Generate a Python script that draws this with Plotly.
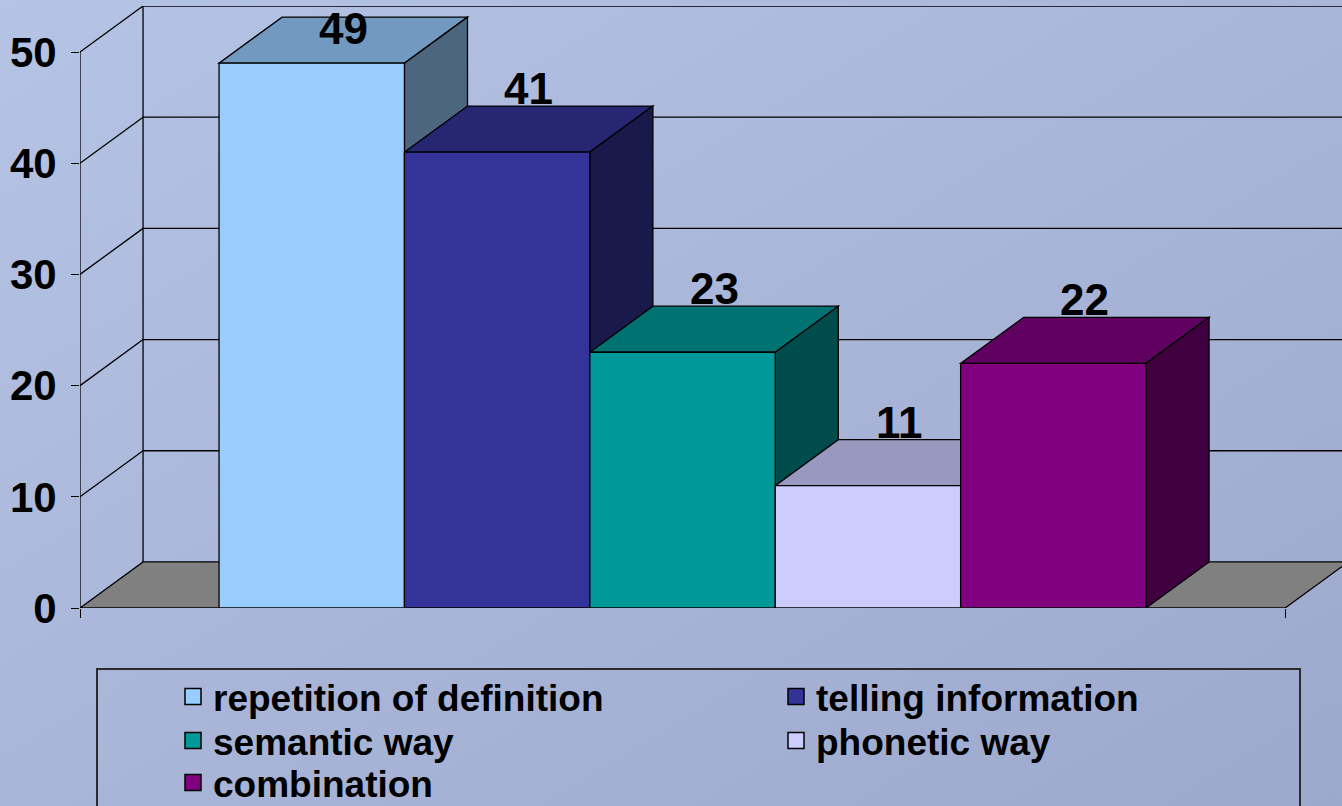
import base64
import plotly.graph_objects as go

# ---- data ----
categories = ["repetition of definition", "telling information", "semantic way",
              "phonetic way", "combination"]
values = [49, 41, 23, 11, 22]
front_colors = ["#99CCFF", "#333399", "#009999", "#CCCCFF", "#800080"]
y_ticks = [0, 10, 20, 30, 40, 50]

# ---- geometry / style ----
W, H = 1342, 806
PX_LEFT, PX_TOP, PX_BOTTOM = 80, 6, 608      # plot frame in pixels
DEPTH_X = 0.34                                # receding offset of the 3-D box (x units)
DEPTH_Y = 4.14                                # receding offset of the 3-D box (y units)
X_MIN, X_MAX = -1.25, 5.557
FLOOR_RIGHT = 5.25
Y_MAX = max(y_ticks) + DEPTH_Y
LABEL_LIFT = 3.65
LABEL_CEIL = 52.1
FONT = "Liberation Sans, Arial, sans-serif"
EDGE = dict(color="black", width=1.3)
LEGEND_FONT = 37
LEGEND_COLS_PX = [173, 776]                   # left edge of each legend column
LEGEND_ROWS_PX = [697, 741, 783]              # vertical centre of each legend row


def shade(hex_color, k):
    h = hex_color.lstrip("#")
    r, g, b = (int(h[i:i + 2], 16) for i in (0, 2, 4))
    return "#{:02X}{:02X}{:02X}".format(int(r * k), int(g * k), int(b * k))


def poly(points):
    return "M " + " L ".join(f"{x},{y}" for x, y in points) + " Z"


shapes = []

# floor of the 3-D box
shapes.append(dict(type="path", xref="x", yref="y", layer="below",
                   path=poly([(X_MIN, 0), (FLOOR_RIGHT, 0),
                              (FLOOR_RIGHT + DEPTH_X, DEPTH_Y), (X_MIN + DEPTH_X, DEPTH_Y)]),
                   fillcolor="#808080", line=EDGE))

# back-wall gridlines and side-wall diagonals
for v in y_ticks[1:]:
    shapes.append(dict(type="line", xref="x", yref="y", layer="below",
                       x0=X_MIN + DEPTH_X, x1=X_MAX + 1, y0=v + DEPTH_Y, y1=v + DEPTH_Y,
                       line=EDGE))
    shapes.append(dict(type="line", xref="x", yref="y", layer="below",
                       x0=X_MIN, x1=X_MIN + DEPTH_X, y0=v, y1=v + DEPTH_Y, line=EDGE))

# back-left edge and front-left edge of the box
shapes.append(dict(type="line", xref="x", yref="y", layer="below",
                   x0=X_MIN + DEPTH_X, x1=X_MIN + DEPTH_X, y0=DEPTH_Y, y1=Y_MAX, line=EDGE))
shapes.append(dict(type="line", xref="x", yref="y", layer="below",
                   x0=X_MIN, x1=X_MIN, y0=0, y1=max(y_ticks), line=EDGE))

# top and side faces of each column, left to right
for i, (v, c) in enumerate(zip(values, front_colors)):
    l, r = i - 0.5, i + 0.5
    shapes.append(dict(type="path", xref="x", yref="y", layer="below",
                       path=poly([(l, v), (r, v), (r + DEPTH_X, v + DEPTH_Y),
                                  (l + DEPTH_X, v + DEPTH_Y)]),
                       fillcolor=shade(c, 0.75), line=EDGE))
    shapes.append(dict(type="path", xref="x", yref="y", layer="below",
                       path=poly([(r, 0), (r, v), (r + DEPTH_X, v + DEPTH_Y),
                                  (r + DEPTH_X, DEPTH_Y)]),
                       fillcolor=shade(c, 0.5), line=EDGE))

# legend frame
shapes.append(dict(type="rect", xref="paper", yref="paper", layer="above",
                   x0=97 / W, x1=1300 / W, y0=1 - 669 / H, y1=-0.05,
                   line=dict(color="#2B2B2B", width=2), fillcolor="rgba(0,0,0,0)"))

fig = go.Figure()

# front faces of the columns
for i, (name, v, c) in enumerate(zip(categories, values, front_colors)):
    fig.add_trace(go.Bar(x=[i], y=[v], width=1, name=name, showlegend=False,
                         marker=dict(color=c, line=EDGE), hoverinfo="name+y"))

# legend entries, two per row
legend_layout = {}
for k, (name, c) in enumerate(zip(categories, front_colors)):
    lid = "legend" if k == 0 else f"legend{k + 1}"
    fig.add_trace(go.Scatter(x=[None], y=[None], mode="markers", name=name, legend=lid,
                             marker=dict(symbol="square", size=16, color=c,
                                         line=dict(color="black", width=1.5))))
    legend_layout[lid] = dict(
        x=LEGEND_COLS_PX[k % 2] / W, xanchor="left",
        y=1 - LEGEND_ROWS_PX[k // 2] / H, yanchor="middle",
        bgcolor="rgba(0,0,0,0)", borderwidth=0,
        font=dict(family=FONT, size=LEGEND_FONT, color="black", weight="bold"))

annotations = []
for i, v in enumerate(values):
    annotations.append(dict(x=i + DEPTH_X / 2, y=min(v + DEPTH_Y / 2 + LABEL_LIFT, LABEL_CEIL),
                            xref="x", yref="y", text=str(v), showarrow=False,
                            font=dict(family=FONT, size=44, color="black", weight="bold")))

# soft diagonal background wash
svg = ('<svg xmlns="http://www.w3.org/2000/svg" width="1342" height="806" '
       'viewBox="0 0 1342 806" preserveAspectRatio="none"><defs>'
       '<linearGradient id="g" x1="0" y1="0" x2="1" y2="1">'
       '<stop offset="0" stop-color="#B5C3E5"/><stop offset="1" stop-color="#9DA9CC"/>'
       '</linearGradient></defs><rect width="1342" height="806" fill="url(#g)"/></svg>')
bg_src = "data:image/svg+xml;base64," + base64.b64encode(svg.encode()).decode()

fig.update_layout(
    width=W, height=H, autosize=False,
    margin=dict(l=0, r=0, t=0, b=0, pad=0, autoexpand=False),
    paper_bgcolor="#AAB6DA", plot_bgcolor="rgba(0,0,0,0)",
    barmode="overlay",
    images=[dict(source=bg_src, xref="paper", yref="paper", x=0, y=1, sizex=1, sizey=1,
                 xanchor="left", yanchor="top", sizing="stretch", layer="below")],
    xaxis=dict(domain=[PX_LEFT / W, 1], range=[X_MIN, X_MAX],
               tickvals=[X_MIN, FLOOR_RIGHT], ticks="outside", ticklen=9, tickwidth=1.3,
               tickcolor="black", showticklabels=False, showgrid=False, zeroline=False,
               showline=False, fixedrange=True),
    yaxis=dict(domain=[1 - PX_BOTTOM / H, 1 - PX_TOP / H], range=[0, Y_MAX],
               tickvals=y_ticks, ticktext=[str(t) for t in y_ticks],
               ticks="outside", ticklen=8, tickwidth=1.3, tickcolor="black",
               ticklabelstandoff=6,
               tickfont=dict(family=FONT, size=42, color="black", weight="bold"),
               showgrid=False, zeroline=False, showline=False, fixedrange=True),
    shapes=shapes,
    annotations=annotations,
    showlegend=True,
    **legend_layout,
)

fig.write_html("out.html")
